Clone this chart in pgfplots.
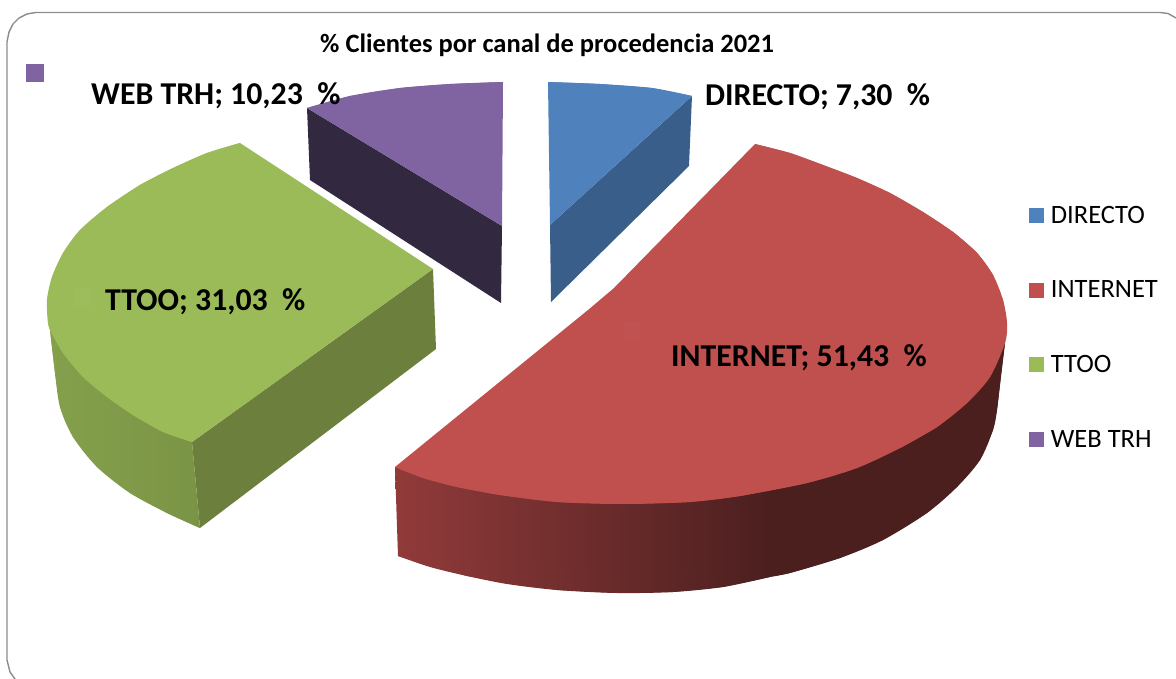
\documentclass[border=0pt]{standalone}
\usepackage{fontspec}
\setmainfont{Carlito}
\usepackage{pgfplots}
\pgfplotsset{compat=1.18}
\definecolor{cblue}{HTML}{4F81BD}
\definecolor{cbluedk}{HTML}{3A5E8A}
\definecolor{cred}{HTML}{BF504D}
\definecolor{credl}{HTML}{913A3A}
\definecolor{credd}{HTML}{4C1F1F}
\definecolor{cgreen}{HTML}{9BBB59}
\definecolor{cgreendk}{HTML}{6C7F3C}
\definecolor{cgreenl}{HTML}{85A04C}
\definecolor{cgreenr}{HTML}{7A9445}
\definecolor{cpurple}{HTML}{8064A2}
\definecolor{cpurpledk}{HTML}{32283F}
\begin{document}
\begin{tikzpicture}
\begin{axis}[
    width=1176pt, height=679pt, scale only axis,
    xmin=0, xmax=1176, ymin=0, ymax=679,
    y dir=reverse,
    hide axis,
    legend style={at={(axis cs:1029,204)}, anchor=north west, draw=none, fill=none,
        font=\fontsize{26.5}{26.5}\selectfont, inner sep=0pt, row sep=52pt},
    legend cell align=left,
    legend image code/.code={\fill[#1,draw=none] (0pt,-7.5pt) rectangle (15pt,7.5pt); \path (19.5pt,0pt);},
]
% keeps the page as large as the axis
\addplot[forget plot, draw=none] coordinates {(0,0) (1176,679)};
% outer frame
\addplot[forget plot, draw=gray!90, line width=1.4pt] coordinates {
    (15,679) (10,672) (7,660) (7,42) (9,32) (13,24) (19,18) (27,14) (36,12.5)
    (1160,12.5) (1168,13.5) (1176,18)
};
% stray purple square
\addplot[forget plot, fill=cpurple, draw=none] coordinates {(26,64) (44,64) (44,82) (26,82)} --cycle;

% DIRECTO
\addplot[forget plot, fill=cbluedk, draw=none] coordinates {(692,96) (689,166) (551,302) (550,225)} --cycle;
\addplot[forget plot, fill=cblue, draw=none] coordinates {
    (548,82) (600,84) (652,88) (692,96) (550,225)} --cycle;
\addplot[forget plot, smooth, fill=cblue, draw=none] coordinates {(548,82) (600,84) (652,88) (692,96)};

% WEB TRH
\addplot[forget plot, fill=cpurpledk, draw=none] coordinates {(307,108) (310,180) (501,303) (502,226)} --cycle;
\addplot[forget plot, fill=cpurple, draw=none] coordinates {
    (307,108) (350,96) (400,88) (450,84) (503,82) (502,226)} --cycle;
\addplot[forget plot, smooth, fill=cpurple, draw=none] coordinates {(307,108) (350,96) (400,88) (450,84) (503,82)};

% TTOO
\addplot[forget plot, fill=cgreendk, draw=none] coordinates {(433,269) (436,349) (200,528) (192,442)} --cycle;
\addplot[forget plot, left color=cgreenl, right color=cgreenr, draw=none] coordinates {
    (50,330) (192,442) (200,528) (167,513) (130,493) (97,467) (73,437) (60,407) (55,373)} --cycle;
\addplot[forget plot, smooth, left color=cgreenl, right color=cgreenr, draw=none] coordinates {
    (50,330) (55,373) (60,407) (73,437) (97,467) (130,493) (167,513) (200,528)};
\addplot[forget plot, fill=cgreen, draw=none] coordinates {
    (240,143) (207,153) (173,168) (140,185) (107,207) (80,230) (63,253) (52,277) (47,300) (48,323)
    (50,330) (63,353) (83,377) (107,397) (133,415) (163,432) (192,442) (433,269)} --cycle;
\addplot[forget plot, smooth, fill=cgreen, draw=none] coordinates {
    (240,143) (207,153) (173,168) (140,185) (107,207) (80,230) (63,253) (52,277) (47,300) (48,323) (50,330)};
\addplot[forget plot, smooth, fill=cgreen, draw=none] coordinates {
    (50,330) (63,353) (83,377) (107,397) (133,415) (163,432) (192,442)};
\addplot[forget plot, fill=cgreen!98!white, draw=none] coordinates {(73,288) (90,288) (90,307) (73,307)} --cycle;

% INTERNET
\addplot[forget plot, left color=credl, right color=credd, draw=none] coordinates {
    (395,467) (398,556) (467,576) (557,590) (617,593) (673,592) (723,587) (770,577) (770,480)} --cycle;
\addplot[forget plot, smooth, left color=credl, right color=credd, draw=none] coordinates {
    (398,556) (430,567) (467,576) (507,584) (557,590) (617,593) (673,592) (723,587) (770,577)};
\addplot[forget plot, fill=credd, draw=none] coordinates {
    (769,450) (769,577) (790,573) (840,558) (883,540) (927,513) (957,487) (980,460) (993,430) (997,410) (1005,343)} --cycle;
\addplot[forget plot, smooth, fill=credd, draw=none] coordinates {
    (769,577) (790,573) (840,558) (883,540) (927,513) (957,487) (980,460) (993,430) (997,410) (1001,375) (1005,343)};
\addplot[forget plot, fill=cred, draw=none] coordinates {
    (755,144) (790,153) (823,165) (857,178) (890,193) (923,212) (953,232) (977,253) (993,275) (1003,300) (1007,323)
    (1005,343) (990,377) (967,403) (937,427) (900,448) (857,468) (807,483) (740,496) (690,502) (623,504)
    (557,502) (500,495) (457,487) (423,478) (395,467) (588,310) (614,288)} --cycle;
\addplot[forget plot, smooth, fill=cred, draw=none] coordinates {
    (755,144) (790,153) (823,165) (857,178) (890,193) (923,212) (953,232) (977,253) (993,275)};
\addplot[forget plot, smooth, fill=cred, draw=none] coordinates {
    (953,232) (977,253) (993,275) (1003,300) (1007,323) (1005,343) (990,377) (967,403) (937,427) (900,448)};
\addplot[forget plot, smooth, fill=cred, draw=none] coordinates {
    (937,427) (900,448) (857,468) (807,483) (740,496) (690,502) (623,504)
    (557,502) (500,495) (457,487) (423,478) (395,467)};
\addplot[forget plot, fill=cred!98!white, draw=none] coordinates {(624,322) (640,322) (640,340) (624,340)} --cycle;

% legend entries
\addlegendimage{fill=cblue}\addlegendentry{DIRECTO}
\addlegendimage{fill=cred}\addlegendentry{INTERNET}
\addlegendimage{fill=cgreen}\addlegendentry{TTOO}
\addlegendimage{fill=cpurple}\addlegendentry{WEB TRH}

% title and data labels
\node[anchor=base west, font=\fontsize{26.5}{26.5}\selectfont\bfseries, inner sep=0pt] at (axis cs:320,53) {\% Clientes por canal de procedencia 2021};
\node[anchor=base west, font=\fontsize{31.8}{31.8}\selectfont\bfseries, inner sep=0pt] at (axis cs:91,105) {WEB TRH; 10,23\ \ \%};
\node[anchor=base west, font=\fontsize{31.8}{31.8}\selectfont\bfseries, inner sep=0pt] at (axis cs:705,106) {DIRECTO; 7,30\ \ \%};
\node[anchor=base west, font=\fontsize{31.8}{31.8}\selectfont\bfseries, inner sep=0pt] at (axis cs:105,311) {TTOO; 31,03\ \ \%};
\node[anchor=base west, font=\fontsize{31.8}{31.8}\selectfont\bfseries, inner sep=0pt] at (axis cs:671,366) {INTERNET; 51,43\ \ \%};
\end{axis}
\end{tikzpicture}
\end{document}
